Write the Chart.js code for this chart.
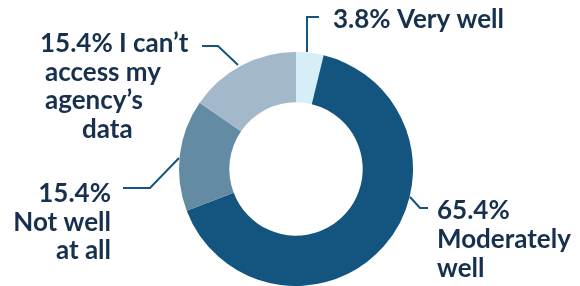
<!DOCTYPE html>
<html>
<head>
<meta charset="utf-8">
<script src="https://cdn.jsdelivr.net/npm/chart.js@4"></script>
<style>
  html, body { margin: 0; padding: 0; background: #fff; }
  #wrap { width: 580px; height: 286px; }
</style>
</head>
<body>
<div id="wrap"><canvas id="myChart" width="580" height="286"></canvas></div>
<script>
var categories = ["Very well", "Moderately well", "Not well at all", "I can’t access my agency’s data"];
var values = [3.8, 65.4, 15.4, 15.4];
var colors = ["#d5eef8", "#13557e", "#648ba4", "#a3b9cb"];

// how each label is wrapped in the picture
var categoryLines = [["Very well"], ["Moderately", "well"], ["Not well", "at all"], ["I can’t", "access my", "agency’s", "data"]];
var pctOwnLine = [false, true, true, false];

// label placement (annotation only)
var labelPos = [
  { x: [333], y: 28, align: "left", lh: 29 },
  { x: [437, 437, 437], y: 219, align: "left", lh: 29 },
  { x: [111, 111, 111], y: 202, align: "right", lh: 28.5 },
  { x: [40, 45, 45, 82], y: 52, align: "left", lh: 28.7 }
];
var leaders = [
  [[307, 52], [307, 17], [319, 17]],
  [[410, 197], [420, 208], [428, 208]],
  [[179, 158], [150, 188], [123, 188]],
  [[238, 65], [218, 46], [202, 46]]
];

function labelLines(i) {
  var pct = values[i].toFixed(1) + "%";
  var cat = categoryLines[i];
  return pctOwnLine[i] ? [pct].concat(cat) : [pct + " " + cat[0]].concat(cat.slice(1));
}

var labelPlugin = {
  id: "sideLabels",
  afterDraw: function(chart) {
    var c = chart.ctx;
    c.save();
    c.strokeStyle = "#13557e";
    c.lineWidth = 2;
    leaders.forEach(function(pts) {
      c.beginPath();
      c.moveTo(pts[0][0], pts[0][1]);
      for (var k = 1; k < pts.length; k++) c.lineTo(pts[k][0], pts[k][1]);
      c.stroke();
    });
    c.fillStyle = "#17304d";
    c.font = "bold 26px Lato";
    c.textBaseline = "alphabetic";
    categories.forEach(function(cat, i) {
      var p = labelPos[i];
      c.textAlign = p.align;
      labelLines(i).forEach(function(line, j) {
        c.fillText(line, p.x[j], p.y + j * p.lh);
      });
    });
    c.restore();
  }
};

var ctx = document.getElementById("myChart");
var myChart = new Chart(ctx, {
  type: "doughnut",
  data: {
    labels: categories,
    datasets: [{
      data: values,
      backgroundColor: colors,
      borderWidth: 0
    }]
  },
  options: {
    responsive: false,
    animation: false,
    cutout: "57%",
    layout: { padding: { top: 52, bottom: 0, left: 179, right: 167 } },
    plugins: { legend: { display: false }, tooltip: { enabled: false } }
  },
  plugins: [labelPlugin]
});
</script>
</body>
</html>
